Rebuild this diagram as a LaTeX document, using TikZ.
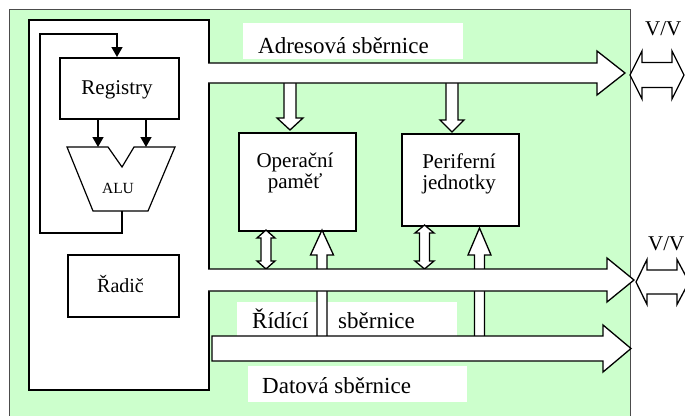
\documentclass[tikz,border=0pt]{standalone}
\usepackage{fontspec}
\setmainfont{Liberation Serif}
\usetikzlibrary{arrows.meta}
\definecolor{bg}{RGB}{204,255,204}
\begin{document}
\begin{tikzpicture}[x=1pt,y=-1pt, line join=miter,
  box/.style={draw, line width=1.5pt, fill=white, inner sep=0pt, anchor=north west},
  fat/.style={draw, line width=1.3pt, fill=white},
  lbl/.style={fill=white, draw=none},
  thinarrow/.style={line width=1.5pt, -{Triangle[width=11pt,length=10pt]}},
  txt/.style={inner sep=0pt, anchor=base, font=\fontsize{21}{25}\selectfont},
  btxt/.style={inner sep=0pt, anchor=base west, font=\fontsize{23}{27}\selectfont},
]
\useasboundingbox (0,0) rectangle (685,415);
\clip (0,0) rectangle (685,415);
% background
\fill[white] (0,0) rectangle (685,415);
\draw[fill=bg, draw=black!70, line width=1pt] (9,9) rectangle (630,425);
% CPU box
\node[box, minimum width=180pt, minimum height=370pt] (cpu) at (28,19) {};
% registry, ALU, controller
\node[box, minimum width=119pt, minimum height=61pt] (reg) at (59,57) {};
\node[txt] (regt) at (117,94) {Registry};
\draw[fat, line width=1.2pt] (67,147) -- (108,147) -- (122,167) -- (134,147) -- (175,147) -- (148,211) -- (93,211) -- cycle;
\coordinate (alub) at (122,211);
\node[txt, font=\fontsize{15.5}{18}\selectfont] (alut) at (118,193) {ALU};
\draw[thinarrow] (reg.south -| 98,0) -- (98,147);
\draw[thinarrow] (reg.south -| 146,0) -- (146,147);
\draw[thinarrow] (alub) -- (122,233) -- (40,233) -- (40,34) -- (117,34) -- (reg.north -| 117,0);
\node[box, minimum width=111pt, minimum height=62pt] (radic) at (67,254) {};
\node[txt, font=\fontsize{20}{24}\selectfont] (radict) at (120.5,292) {Řadič};
% address bus down arrows
\draw[fat] (284,83) -- (284,118) -- (277,118) -- (290,130) -- (303,118) -- (296,118) -- (296,83);
\draw[fat] (446,83) -- (446,120) -- (440,120) -- (452,132) -- (464,120) -- (458,120) -- (458,83);
% address bus
\draw[fat] (208,63) -- (597,63) -- (597,51) -- (625,73) -- (597,95) -- (597,83) -- (208,83);
\fill[white] (243,23) rectangle (463,59);
\node[btxt] (adr) at (258,53) {Adresová sběrnice};
% memory and peripherals
\node[box, minimum width=117pt, minimum height=98pt] (mem) at (238,132) {};
\node[txt] (memt1) at (295,167) {Operační};
\node[txt] (memt2) at (295,188) {paměť};
\node[box, minimum width=117pt, minimum height=92pt] (per) at (401,133) {};
\node[txt] (pert1) at (459,168) {Periferní};
\node[txt] (pert2) at (459,189) {jednotky};
% control bus label
\fill[white] (237,302) rectangle (457,336);
\node[btxt] (ridt1) at (252,328) {Řídící};
\node[btxt] (ridt2) at (338,328) {sběrnice};
% data up arrows
\draw[fat] (317,340) -- (317,255) -- (310.5,255) -- (322,230) -- (333.5,255) -- (327,255) -- (327,340);
\draw[fat] (474.5,340) -- (474.5,255) -- (468,255) -- (479.5,228) -- (491,255) -- (484.5,255) -- (484.5,340);
% double arrows
\draw[fat] (266,230) -- (275,238) -- (271,238) -- (271,261) -- (275,261) -- (266,269) -- (257,261) -- (261,261) -- (261,238) -- (257,238) -- cycle;
\draw[fat] (424.5,225) -- (434,233) -- (429.5,233) -- (429.5,261) -- (434,261) -- (424.5,269) -- (415,261) -- (419.5,261) -- (419.5,233) -- (415,233) -- cycle;
% control bus
\draw[fat] (208,269) -- (607,269) -- (607,258) -- (634,280) -- (607,302) -- (607,291) -- (208,291);
% data bus
\draw[fat] (212,336) -- (603,336) -- (603,325) -- (631,348.5) -- (603,372) -- (603,361) -- (212,361) -- cycle;
\fill[white] (248,366) rectangle (467,402);
\node[btxt] (dat) at (262,393) {Datová sběrnice};
% I/O arrows
\draw[fat] (630,75) -- (642,51) -- (642,62.5) -- (672,62.5) -- (672,51) -- (684,75) -- (672,99) -- (672,87.5) -- (642,87.5) -- (642,99) -- cycle;
\node[btxt, font=\fontsize{21}{25}\selectfont] (vv1) at (645,35) {V/V};
\draw[fat] (636,282) -- (647,259.5) -- (647,270) -- (677,270) -- (677,259.5) -- (689,282) -- (677,304.5) -- (677,294) -- (647,294) -- (647,304.5) -- cycle;
\node[btxt, font=\fontsize{21}{25}\selectfont] (vv2) at (648,250) {V/V};
\end{tikzpicture}
\end{document}
